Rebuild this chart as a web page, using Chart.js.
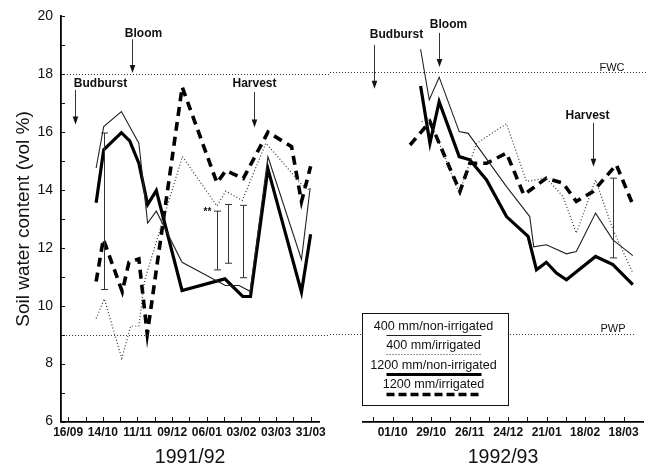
<!DOCTYPE html>
<html><head><meta charset="utf-8">
<script src="https://cdn.jsdelivr.net/npm/chart.js@4"></script>
<style>
html,body{margin:0;padding:0;background:#fff;}
#wrap{position:relative;width:650px;height:470px;overflow:hidden;font-family:"Liberation Sans",Arial,sans-serif;background:#fff;}
#c1{position:absolute;left:0;top:0;}
#c2{position:absolute;left:330px;top:0;}
#legend{position:absolute;left:362px;top:313px;width:145px;height:91px;border:1.5px solid #111;background:#fff;}
.lt{position:absolute;left:-2px;width:100%;text-align:center;font-size:12.6px;line-height:14px;color:#111;white-space:nowrap;}
#legend svg{position:absolute;left:0;top:0;}
</style></head><body>
<div id="wrap">
<canvas id="c1" width="330" height="470"></canvas>
<canvas id="c2" width="320" height="470"></canvas>
<div id="legend">
  <svg width="145" height="91"></svg>
  <div class="lt" style="top:4.5px">400 mm/non-irrigated</div>
  <div class="lt" style="top:23.5px">400 mm/irrigated</div>
  <div class="lt" style="top:43.5px">1200 mm/non-irrigated</div>
  <div class="lt" style="top:62.5px">1200 mm/irrigated</div>
</div>
</div>
<script>
// ---------- DATA ----------
// Season 1991/92: days after 16/09/1991
const ticks91Days = [0,14,28,42,56,70,84,98,112,126,140,154,168,182,196];
const ticks91Labels = ['16/09','','14/10','','11/11','','09/12','','06/01','','03/02','','03/03','','31/03'];
// Season 1992/93: days after 01/10/1992
const ticks92Days = [-14,0,14,28,42,56,70,84,98,112,126,140,154,168];
const ticks92Labels = ['','01/10','','29/10','','26/11','','24/12','','21/01','','18/02','','18/03'];
const yTickValues = [6,8,10,12,14,16,18,20];

const seriesNames = ['400 mm/non-irrigated','400 mm/irrigated','1200 mm/non-irrigated','1200 mm/irrigated'];

const days91_400NI = [22.6, 28.7, 43.0, 57.1, 64.2, 71.2, 92.0, 127.0, 138.0, 147.0, 161.4, 188.5, 195.5];
const vals91_400NI = [14.76, 16.19, 16.71, 15.62, 12.86, 13.27, 11.50, 10.70, 10.70, 10.50, 15.15, 11.60, 14.07];
const days91_400I = [22.6, 29.2, 43.3, 50.5, 57.1, 61.9, 92.3, 120.2, 127.4, 140.7, 159.8, 188.5, 195.1];
const vals91_400I = [9.56, 10.24, 8.18, 9.30, 9.30, 10.90, 15.16, 13.45, 13.96, 13.64, 15.62, 14.20, 14.00];
const days91_1200NI = [22.6, 28.7, 43.0, 49.7, 57.1, 64.2, 71.2, 92.0, 126.6, 141.0, 147.3, 161.4, 188.5, 195.9];
const vals91_1200NI = [13.56, 15.39, 15.98, 15.70, 14.93, 13.50, 13.98, 10.53, 10.93, 10.32, 10.32, 14.73, 10.47, 12.47];
const days91_1200I = [22.6, 28.4, 43.7, 49.1, 57.1, 63.9, 92.1, 120.2, 127.4, 141.5, 161.4, 180.5, 188.5, 195.9];
const vals91_1200I = [10.84, 12.30, 10.49, 11.50, 11.62, 9.02, 17.56, 14.25, 14.67, 14.40, 16.00, 15.50, 13.60, 14.82];

const days92_400NI = [20.3, 26.6, 33.8, 48.4, 54.9, 82.8, 99.7, 102.6, 111.8, 126.4, 133.6, 147.6, 160.2, 174.7];
const vals92_400NI = [18.79, 17.05, 17.83, 15.96, 15.90, 14.07, 13.04, 12.00, 12.07, 11.76, 11.84, 13.16, 12.24, 11.70];
const days92_400I = [21.1, 26.6, 48.4, 61.0, 82.8, 97.3, 111.8, 123.9, 133.6, 147.6, 160.2, 174.7];
const vals92_400I = [16.30, 16.42, 13.85, 15.56, 16.23, 14.25, 14.36, 13.73, 12.47, 14.30, 12.60, 11.10];
const days92_1200NI = [20.3, 27.1, 33.8, 48.4, 56.1, 68.3, 82.8, 98.5, 104.6, 111.8, 119.1, 126.4, 147.6, 160.2, 174.7];
const vals92_1200NI = [17.53, 15.56, 16.99, 15.10, 14.99, 14.30, 13.04, 12.36, 11.21, 11.47, 11.10, 10.87, 11.67, 11.39, 10.70];
const days92_1200I = [12.6, 27.1, 48.9, 56.1, 68.3, 82.8, 95.4, 111.8, 123.9, 133.6, 145.7, 162.7, 174.7];
const vals92_1200I = [15.50, 16.30, 13.90, 14.87, 14.87, 15.22, 13.79, 14.36, 14.19, 13.56, 13.90, 14.82, 13.45];

// Error bars (LSD)
const err91Days = [28.7, 120.2, 129.0, 140.9];
const err91Low = [10.56, 11.24, 11.47, 10.97];
const err91High = [15.97, 13.27, 13.50, 13.47];
const err91Marks = ['', '**', '', ''];
const err92Days = [160.2];
const err92Low = [11.62];
const err92High = [14.36];
const err92Marks = [''];

// Reference levels
const refValues = [18, 9];
const refLabels = ['FWC', 'PWP'];

// Phenological events
const events91 = ['Budburst', 'Bloom', 'Harvest'];
const events91Days = [5.3, 51.5, 150.3];
const events92 = ['Budburst', 'Bloom', 'Harvest'];
const events92Days = [-13.6, 33.6, 145.5];

// ---------- STYLE / LAYOUT ----------
Chart.defaults.font.family = "'Liberation Sans', Arial, sans-serif";
Chart.defaults.color = '#111';
Chart.defaults.animation = false;

const styles = [
  {borderColor:'#222', borderWidth:1.1, borderDash:[]},
  {borderColor:'#333', borderWidth:1.2, borderDash:[1,2.2]},
  {borderColor:'#000', borderWidth:3.2, borderDash:[]},
  {borderColor:'#000', borderWidth:3.6, borderDash:[9,6]}
];
function toXY(days, vals){ return days.map((d,i)=>({x:d, y:vals[i]})); }
function makeDatasets(list){
  return list.map((p,i)=>Object.assign({label:seriesNames[i], data:toXY(p[0],p[1]), pointRadius:0, tension:0, fill:false, borderCapStyle:'butt'}, styles[i]));
}

// arrow geometry per event (value units for top/tip, px offsets for text)
const arrows91 = [{top:17.46, tip:16.26, dx:25, dy:-6}, {top:19.21, tip:18.04, dx:11, dy:-6}, {top:17.39, tip:16.16, dx:0, dy:-8}];
const arrows92 = [{top:18.94, tip:17.43, dx:22, dy:-10}, {top:19.35, tip:18.18, dx:9, dy:-8}, {top:16.26, tip:14.75, dx:-6, dy:-7}];

function makeExtras(o){
  return {
    id:'extras',
    afterDatasetsDraw(chart){
      const {ctx, chartArea:ca, scales:{x, y}} = chart;
      ctx.save();
      // reference lines
      refValues.forEach((v,i)=>{
        const r = o.refs[i];
        const py = Math.round(y.getPixelForValue(v)) + 0.5;
        ctx.strokeStyle = '#333'; ctx.lineWidth = 1; ctx.setLineDash([1,2]);
        ctx.beginPath(); ctx.moveTo(r.x0, py); ctx.lineTo(r.x1, py); ctx.stroke();
        ctx.setLineDash([]);
        if (o.showRefLabels){
          ctx.fillStyle = '#111'; ctx.font = '11px "Liberation Sans", Arial'; ctx.textAlign = 'center'; ctx.textBaseline = 'middle';
          ctx.fillText(refLabels[i], r.lx, py + r.ldy);
        }
      });
      // inward x ticks
      ctx.strokeStyle = '#111'; ctx.lineWidth = 1;
      x.ticks.forEach(t=>{
        const px = Math.round(x.getPixelForValue(t.value)) + 0.5;
        ctx.beginPath(); ctx.moveTo(px, ca.bottom); ctx.lineTo(px, ca.bottom - 4.5); ctx.stroke();
      });
      // inward y minor ticks
      if (o.yTicks){
        for (let v = 6; v <= 20; v++){
          const py = Math.round(y.getPixelForValue(v)) + 0.5;
          ctx.beginPath(); ctx.moveTo(ca.left, py); ctx.lineTo(ca.left + 4, py); ctx.stroke();
        }
      }
      // error bars
      ctx.strokeStyle = '#333'; ctx.lineWidth = 1;
      o.err.days.forEach((d,i)=>{
        const px = Math.round(x.getPixelForValue(d)) + 0.5;
        const pt = y.getPixelForValue(o.err.high[i]);
        const pb = y.getPixelForValue(o.err.low[i]);
        ctx.beginPath();
        ctx.moveTo(px, pt); ctx.lineTo(px, pb);
        ctx.moveTo(px - 3.5, pt); ctx.lineTo(px + 3.5, pt);
        ctx.moveTo(px - 3.5, pb); ctx.lineTo(px + 3.5, pb);
        ctx.stroke();
        if (o.err.marks[i]){
          ctx.fillStyle = '#111'; ctx.font = 'bold 10px "Liberation Sans", Arial'; ctx.textAlign = 'center'; ctx.textBaseline = 'middle';
          ctx.fillText(o.err.marks[i], px - 10, pt + 1);
        }
      });
      // event arrows
      o.events.names.forEach((name,i)=>{
        const a = o.events.geom[i];
        const px = Math.round(x.getPixelForValue(o.events.days[i])) + 0.5;
        const pTop = y.getPixelForValue(a.top);
        const pTip = y.getPixelForValue(a.tip);
        ctx.strokeStyle = '#333'; ctx.lineWidth = 1;
        ctx.beginPath(); ctx.moveTo(px, pTop); ctx.lineTo(px, pTip - 6); ctx.stroke();
        ctx.fillStyle = '#111';
        ctx.beginPath(); ctx.moveTo(px, pTip); ctx.lineTo(px - 2.8, pTip - 8); ctx.lineTo(px + 2.8, pTip - 8); ctx.closePath(); ctx.fill();
        ctx.font = 'bold 12px "Liberation Sans", Arial'; ctx.textAlign = 'center'; ctx.textBaseline = 'middle';
        ctx.fillText(name, px + a.dx, pTop + a.dy);
      });
      ctx.restore();
    }
  };
}

function xScale(min, max, tDays, tLabels, year){
  return {
    type:'linear', min:min, max:max,
    grid:{display:false, drawTicks:false},
    border:{display:true, color:'#000', width:1.8},
    afterBuildTicks(s){ s.ticks = tDays.map(v=>({value:v})); },
    ticks:{autoSkip:false, maxRotation:0, minRotation:0, padding:4, font:{size:12, weight:'bold'}, color:'#111',
           callback:(v,i)=>tLabels[i]},
    title:{display:true, text:year, font:{size:19.5}, color:'#111', padding:{top:0, bottom:0.5}},
    afterFit(s){ s.height = 48.5; }
  };
}

new Chart(document.getElementById('c1'), {
  type:'line',
  data:{datasets: makeDatasets([[days91_400NI,vals91_400NI],[days91_400I,vals91_400I],[days91_1200NI,vals91_1200NI],[days91_1200I,vals91_1200I]])},
  options:{
    responsive:false, animation:false,
    layout:{padding:{left:0, right:7, top:14, bottom:0}},
    plugins:{legend:{display:false}, tooltip:{enabled:false}},
    scales:{
      x: xScale(-5.8, 202.8, ticks91Days, ticks91Labels, '1991/92'),
      y:{min:6, max:20,
         grid:{display:false, drawTicks:false},
         border:{display:true, color:'#000', width:1.8},
         afterBuildTicks(s){ s.ticks = yTickValues.map(v=>({value:v})); },
         ticks:{padding:8, font:{size:14}, color:'#111'},
         title:{display:true, text:'Soil water content (vol %)', font:{size:19}, color:'#111', padding:{top:12, bottom:0}},
         afterFit(s){ s.width = 61; }}
    }
  },
  plugins:[makeExtras({
    refs:[{x0:67, x1:330}, {x0:63, x1:330}], showRefLabels:false, yTicks:true,
    err:{days:err91Days, low:err91Low, high:err91High, marks:err91Marks},
    events:{names:events91, days:events91Days, geom:arrows91}
  })]
});

new Chart(document.getElementById('c2'), {
  type:'line',
  data:{datasets: makeDatasets([[days92_400NI,vals92_400NI],[days92_400I,vals92_400I],[days92_1200NI,vals92_1200NI],[days92_1200I,vals92_1200I]])},
  options:{
    responsive:false, animation:false,
    layout:{padding:{left:33, right:7, top:14, bottom:0}},
    plugins:{legend:{display:false}, tooltip:{enabled:false}},
    scales:{
      x: xScale(-21.6, 182.1, ticks92Days, ticks92Labels, '1992/93'),
      y:{display:false, min:6, max:20}
    }
  },
  plugins:[makeExtras({
    refs:[{x0:0, x1:317, lx:282, ldy:-5}, {x0:0, x1:305, lx:283, ldy:-6}], showRefLabels:true, yTicks:false,
    err:{days:err92Days, low:err92Low, high:err92High, marks:err92Marks},
    events:{names:events92, days:events92Days, geom:arrows92}
  })]
});

// legend samples
(function(){
  const svg = document.querySelector('#legend svg');
  const ns = 'http://www.w3.org/2000/svg';
  const ys = [21.5, 40.5, 60.5, 80.5];
  const dash = ['', '1 2', '', '8 4'];
  const widths = [1.1, 1.2, 3.2, 3.4];
  const colors = ['#222','#333','#000','#000'];
  ys.forEach((yy,i)=>{
    const l = document.createElementNS(ns,'line');
    l.setAttribute('x1', 23.5); l.setAttribute('x2', 118.5);
    l.setAttribute('y1', yy); l.setAttribute('y2', yy);
    l.setAttribute('stroke', colors[i]); l.setAttribute('stroke-width', widths[i]);
    if (dash[i]) l.setAttribute('stroke-dasharray', dash[i]);
    svg.appendChild(l);
  });
})();
</script>
</body></html>
